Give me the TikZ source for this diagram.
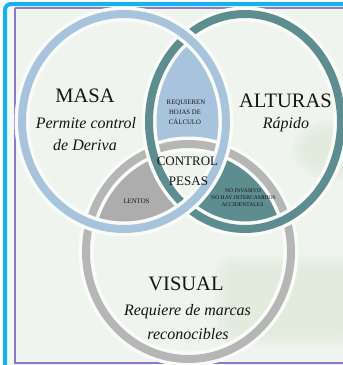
\documentclass[tikz,border=0pt]{standalone}
\usepackage{fontspec}
\setmainfont{Liberation Serif}
\definecolor{bgc}{HTML}{EFF4EE}
\definecolor{bgblob}{HTML}{D9E6D4}
\definecolor{framecyan}{HTML}{12B2EE}
\definecolor{framepurple}{HTML}{8A7CC8}
\definecolor{masac}{HTML}{A8C3DC}
\definecolor{altc}{HTML}{5D8D8E}
\definecolor{visc}{HTML}{B6B6B6}
\definecolor{txt}{HTML}{151515}
\tikzset{
  ringhalo/.style={draw=bgc!40!white, line width=15pt},
  ringline/.style={line width=8pt},
  bigtitle/.style={anchor=base, text=txt, inner sep=0pt, font=\fontsize{20.5}{20.5}\selectfont},
  subtitle/.style={anchor=base, text=txt, inner sep=0pt, font=\fontsize{16}{16}\selectfont\itshape},
  centertxt/.style={anchor=base, text=txt, inner sep=0pt, font=\fontsize{13}{13}\selectfont},
  smalltxt/.style={anchor=base, text=txt, inner sep=0pt, font=\fontsize{6.8}{6.8}\selectfont},
  tinytxt/.style={anchor=base, text=txt, inner sep=0pt, font=\fontsize{5.6}{5.6}\selectfont},
  blob/.style={fill=bgblob, opacity=0.18},
}
\begin{document}
\begin{tikzpicture}[x=1pt,y=-1pt]
\useasboundingbox (0,0) rectangle (343,365);
% page and frame
\fill[white] (0,0) rectangle (343,365);
\fill[bgc!60!white] (5,4) rectangle (343,365);
\draw[framecyan, line width=4pt, rounded corners=6pt] (5,4) -- (370,4) -- (370,390) -- (5,390) -- cycle;
\fill[bgc] (15,8) rectangle (352,363);
% faint background blobs (soft edges by layering)
\begin{scope}
\clip (15,8) rectangle (352,363);
\foreach \d in {0,4,8,12} {
  \fill[blob, rounded corners=20pt] (215+\d,255+\d) rectangle (360,345-\d);
  \fill[blob] (332,150) ellipse [x radius=40pt-\d pt, y radius=30pt-\d pt];
}
\end{scope}
\draw[framepurple, line width=1.3pt] (15,8) -- (15,363) -- (352,363);
\draw[framepurple, line width=1.3pt] (15,8) -- (352,8);
% lens fills
\begin{scope}
\clip (124,121.5) ellipse [x radius=102pt, y radius=107.5pt];
\clip (245,121.5) ellipse [x radius=96pt, y radius=107.5pt];
\fill[masac, even odd rule] (0,0) rectangle (343,365) (188.5,251.5) ellipse [x radius=102.5pt, y radius=107.5pt];
\end{scope}
\begin{scope}
\clip (124,121.5) ellipse [x radius=102pt, y radius=107.5pt];
\clip (188.5,251.5) ellipse [x radius=102.5pt, y radius=107.5pt];
\fill[visc!95!black, even odd rule] (0,0) rectangle (343,365) (245,121.5) ellipse [x radius=96pt, y radius=107.5pt];
\end{scope}
\begin{scope}
\clip (245,121.5) ellipse [x radius=96pt, y radius=107.5pt];
\clip (188.5,251.5) ellipse [x radius=102.5pt, y radius=107.5pt];
\fill[altc, even odd rule] (0,0) rectangle (343,365) (124,121.5) ellipse [x radius=102pt, y radius=107.5pt];
\end{scope}
% rings (woven: visual below, alturas middle, masa on top)
\draw[ringhalo] (188.5,251.5) ellipse [x radius=102.5pt, y radius=107.5pt];
\draw[ringline, visc] (188.5,251.5) ellipse [x radius=102.5pt, y radius=107.5pt];
\draw[ringhalo] (245,121.5) ellipse [x radius=96pt, y radius=107.5pt];
\draw[ringline, altc] (245,121.5) ellipse [x radius=96pt, y radius=107.5pt];
\draw[ringhalo] (124,121.5) ellipse [x radius=102pt, y radius=107.5pt];
\draw[ringline, masac] (124,121.5) ellipse [x radius=102pt, y radius=107.5pt];
% texts
\node[bigtitle] (masa) at (85,102) {MASA};
\node[subtitle] (masa1) at (86,128) {Permite control};
\node[subtitle] (masa2) at (85,150) {de Deriva};
\node[bigtitle] (alt) at (285.5,107) {ALTURAS};
\node[subtitle] (alt1) at (286,128) {Rápido};
\node[bigtitle] (vis) at (186,290) {VISUAL};
\node[subtitle] (vis1) at (187.5,315) {Requiere de marcas};
\node[subtitle] (vis2) at (188,339) {reconocibles};
\node[centertxt] (ctl1) at (187.5,165) {CONTROL};
\node[centertxt] (ctl2) at (188.5,185) {PESAS};
\node[smalltxt] (rq1) at (186,104.5) {REQUIEREN};
\node[smalltxt] (rq2) at (185,114.5) {HOJAS DE};
\node[smalltxt] (rq3) at (185,124) {CÁLCULO};
\node[smalltxt] (len) at (136.5,203) {LENTOS};
\node[tinytxt] (ni1) at (243,192) {NO INVASIVO};
\node[tinytxt] (ni2) at (243.5,199) {NO HAY INTERCAMBIOS};
\node[tinytxt] (ni3) at (242.5,206) {ACCIDENTALES};
\end{tikzpicture}
\end{document}
